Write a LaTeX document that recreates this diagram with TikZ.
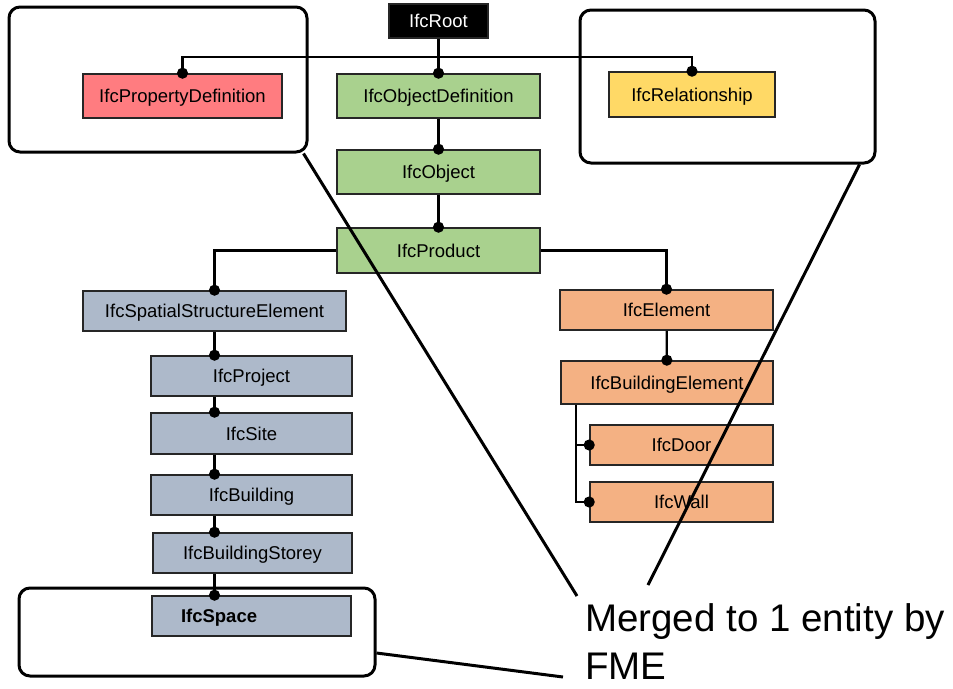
\documentclass[tikz,border=0pt]{standalone}
\usepackage{fontspec}
\setmainfont{Liberation Sans}
\usetikzlibrary{arrows.meta,positioning,calc}
\definecolor{Rose}{HTML}{FF7C80}
\definecolor{Leaf}{HTML}{A9D18E}
\definecolor{Sun}{HTML}{FFD966}
\definecolor{Peach}{HTML}{F4B183}
\definecolor{Slate}{HTML}{ADB9CA}
\definecolor{Edge}{HTML}{262626}

\begin{document}
\begin{tikzpicture}[x=1pt,y=-1pt,
    ent/.style={draw=Edge,line width=1.6pt,inner sep=0pt,minimum height=40pt,text height=13.3pt,text depth=0pt,font=\fontsize{18.5}{21}\selectfont},
    lk/.style={line width=2.2pt,draw=black,-{Circle[length=11pt,width=11pt]},shorten >=-5.5pt},
    grp/.style={draw,line width=3pt,rounded corners=11pt,inner sep=0pt},
    ray/.style={line width=3pt}]
    \useasboundingbox (0,0) rectangle (953,688);
    % top level
    \node[ent,fill=black,text=white,minimum width=99pt,minimum height=34pt] (root) at (438.5,21) {IfcRoot};
    \node[ent,fill=Rose,minimum width=199pt,minimum height=44pt] (pdef) at (182.5,96) {IfcPropertyDefinition};
    \node[ent,fill=Leaf,minimum width=203pt,minimum height=44pt] (odef) at (438.5,96) {IfcObjectDefinition};
    \node[ent,fill=Sun,minimum width=166pt,minimum height=45pt] (rel) at (692,94.5) {IfcRelationship};
    \node[ent,fill=Leaf,minimum width=203pt,minimum height=44pt] (obj) at (438.5,172) {IfcObject};
    \node[ent,fill=Leaf,minimum width=203pt,minimum height=45pt] (prod) at (438.5,250.5) {IfcProduct};
    % spatial branch
    \node[ent,fill=Slate,minimum width=263pt] (sse) at (214.5,311) {IfcSpatialStructureElement};
    \node[ent,fill=Slate,minimum width=201pt] (proj) at (251.5,376) {IfcProject};
    \node[ent,fill=Slate,minimum width=201pt,minimum height=41pt] (site) at (251.5,433.5) {IfcSite};
    \node[ent,fill=Slate,minimum width=201pt] (bldg) at (251.5,495) {IfcBuilding};
    \node[ent,fill=Slate,minimum width=199pt] (stor) at (252.5,553) {IfcBuildingStorey};
    \node[ent,fill=Slate,minimum width=199pt,text width=141pt,inner xsep=29pt,align=left,font=\fontsize{18.5}{21}\selectfont\bfseries] (space) at (251.5,616) {IfcSpace};
    % element branch
    \node[ent,fill=Peach,minimum width=213pt] (elem) at (666.5,310) {IfcElement};
    \node[ent,fill=Peach,minimum width=212pt,minimum height=43pt] (belem) at (667,382.5) {IfcBuildingElement};
    \node[ent,fill=Peach,minimum width=183pt] (door) at (681.5,445) {IfcDoor};
    \node[ent,fill=Peach,minimum width=183pt] (wall) at (681.5,502) {IfcWall};
    % links
    \coordinate (bar) at (438.5,57);
    \draw[lk] (root) -- (odef);
    \draw[lk] (bar) -| (pdef);
    \draw[lk] (bar) -| (rel);
    \draw[lk] (odef) -- (obj);
    \draw[lk] (obj) -- (prod);
    \draw[lk] (prod) -| (sse);
    \draw[lk] (prod) -| (elem);
    \draw[lk] (sse) -- (sse.south |- proj.north);
    \draw[lk] (proj.south -| sse) -- (site.north -| sse);
    \draw[lk] (site.south -| sse) -- (bldg.north -| sse);
    \draw[lk] (bldg.south -| sse) -- (stor.north -| sse);
    \draw[lk] (stor.south -| sse) -- (space.north -| sse);
    \draw[lk] (elem) -- (belem);
    \coordinate (trunk) at ([xshift=-91pt]belem.south);
    \draw[lk] (trunk) |- (door);
    \draw[lk] (trunk) |- (wall);
    % merged groups
    \node[grp,minimum width=298pt,minimum height=145pt] (g1) at (158,79.5) {};
    \node[grp,minimum width=295pt,minimum height=153pt] (g2) at (727.5,86.5) {};
    \node[grp,minimum width=356pt,minimum height=88pt] (g3) at (197,632) {};
    \node[anchor=north west,inner sep=0pt,align=left,font=\fontsize{38.5}{48}\selectfont] (note) at (585,603) {Merged to 1 entity by\\FME};
    \coordinate (m1) at (577,596);
    \coordinate (m2) at (648,585);
    \coordinate (m3) at (563,677);
    \draw[ray] ([xshift=-5pt]g1.south east) -- (m1);
    \draw[ray] ([xshift=-17pt]g2.south east) -- (m2);
    \draw[ray] ([yshift=-21pt]g3.east) -- (m3);
\end{tikzpicture}
\end{document}
